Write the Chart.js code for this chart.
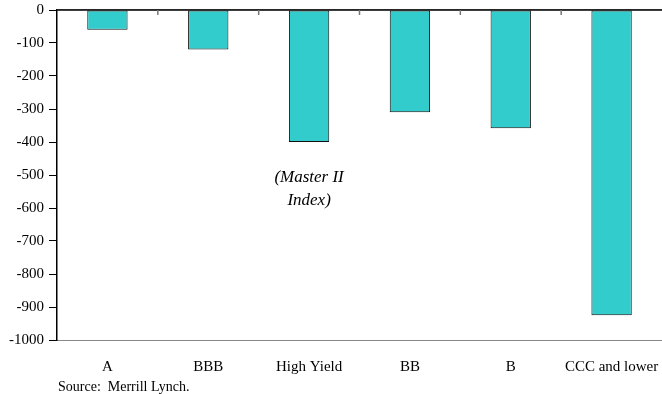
<!DOCTYPE html>
<html>
<head>
<meta charset="utf-8">
<script src="https://cdn.jsdelivr.net/npm/chart.js@4/dist/chart.umd.min.js"></script>
<style>
  html, body { margin: 0; padding: 0; background: #fff; }
  #wrap { width: 662px; height: 394px; position: relative; }
</style>
</head>
<body>
<div id="wrap"><canvas id="spread"></canvas></div>
<script>
const categories = ["A", "BBB", "High Yield", "BB", "B", "CCC and lower"];
const spreadChange = [-60, -120, -400, -310, -358, -925];
const yMin = -1000;
const yMax = 0;
const yStep = 100;
const noteLines = ["(Master II", "Index)"];
const sourceText = "Source:  Merrill Lynch.";

const serif = "'Liberation Serif', 'Times New Roman', serif";

// zero line, category ticks hanging from it, note and source line
const extras = {
    id: "extras",
    afterDatasetsDraw(chart) {
        const { ctx, chartArea, scales } = chart;
        const x = scales.x, y = scales.y;
        const y0 = y.getPixelForValue(0);
        ctx.save();
        ctx.strokeStyle = "#999";
        ctx.lineWidth = 1;
        ctx.beginPath();
        ctx.moveTo(chartArea.left, chartArea.top - 0.5);
        ctx.lineTo(chartArea.right, chartArea.top - 0.5);
        ctx.stroke();

        ctx.strokeStyle = "#000";
        ctx.lineWidth = 1.5;
        ctx.beginPath();
        ctx.moveTo(chartArea.left, y0);
        ctx.lineTo(chartArea.right, y0);
        ctx.stroke();

        ctx.strokeStyle = "#777";
        ctx.lineWidth = 1.5;
        for (let i = 1; i < categories.length; i++) {
            const bx = (x.getPixelForValue(i - 1) + x.getPixelForValue(i)) / 2;
            ctx.beginPath();
            ctx.moveTo(bx, y0);
            ctx.lineTo(bx, y0 + 5);
            ctx.stroke();
        }

        ctx.fillStyle = "#000";
        ctx.font = "italic 17px " + serif;
        ctx.textAlign = "center";
        ctx.textBaseline = "middle";
        const nx = x.getPixelForValue(2);
        ctx.fillText(noteLines[0], nx, y.getPixelForValue(-509));
        ctx.fillText(noteLines[1], nx, y.getPixelForValue(-576));

        ctx.font = "14px " + serif;
        ctx.textAlign = "left";
        ctx.fillText(sourceText, 58, 387);
        ctx.restore();
    }
};

new Chart(document.getElementById("spread"), {
    type: "bar",
    data: {
        labels: categories,
        datasets: [{
            data: spreadChange,
            backgroundColor: "#33CCCC",
            borderColor: "#111",
            borderWidth: 1,
            borderSkipped: false,
            barPercentage: 0.4,
            categoryPercentage: 1.0
        }]
    },
    options: {
        responsive: true,
        maintainAspectRatio: false,
        animation: false,
        layout: { padding: { top: 10, right: 0, bottom: 0, left: 0 } },
        plugins: {
            legend: { display: false },
            tooltip: { enabled: false }
        },
        scales: {
            x: {
                grid: { display: false },
                border: { display: true, color: "#888", width: 1 },
                ticks: {
                    color: "#000",
                    font: { family: serif, size: 15 },
                    padding: 10,
                    maxRotation: 0
                },
                afterFit(scale) {
                    scale.height = 54;
                    scale.paddingLeft = 0;
                    scale.paddingRight = 0;
                }
            },
            y: {
                min: yMin,
                max: yMax,
                grid: {
                    drawOnChartArea: false,
                    drawTicks: true,
                    tickLength: 8,
                    color: "#000"
                },
                border: { display: true, color: "#000", width: 1.5 },
                ticks: {
                    stepSize: yStep,
                    color: "#000",
                    font: { family: serif, size: 15 },
                    padding: 5,
                    callback: (v) => String(v)
                },
                afterFit(scale) {
                    scale.width = 57;
                    scale.paddingTop = 0;
                    scale.paddingBottom = 0;
                }
            }
        }
    },
    plugins: [extras]
});
</script>
</body>
</html>
